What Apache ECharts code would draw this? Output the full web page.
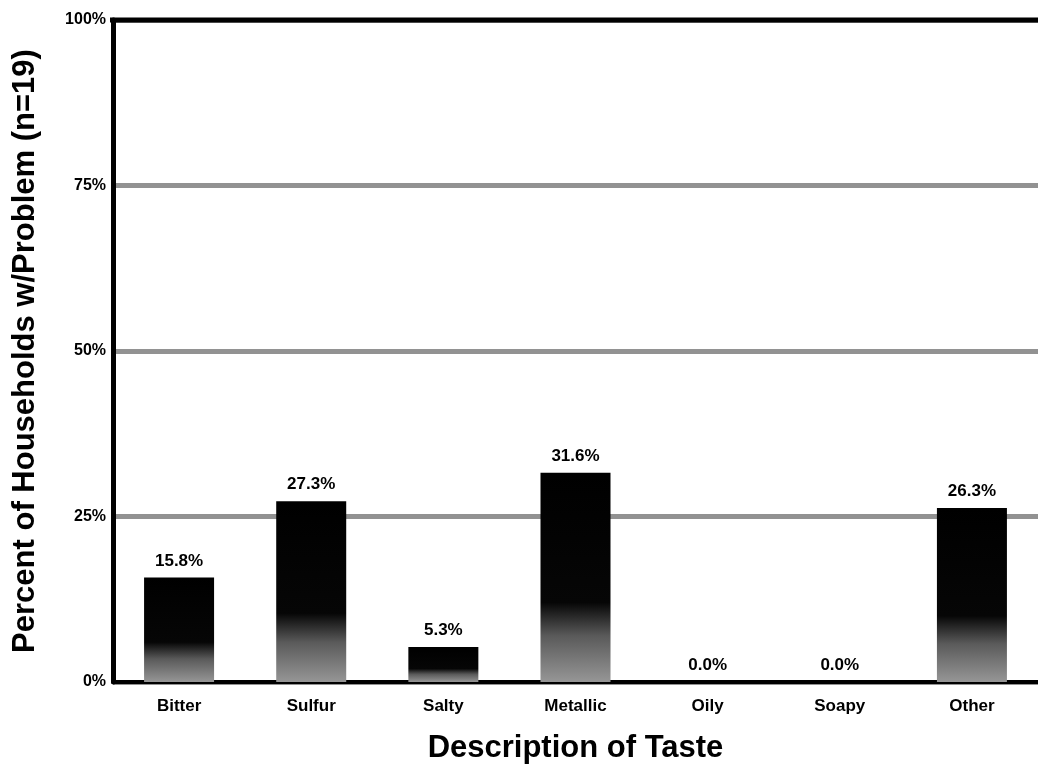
<!DOCTYPE html>
<html><head><meta charset="utf-8">
<script src="https://cdn.jsdelivr.net/npm/echarts@6/dist/echarts.min.js"></script>
<style>html,body{margin:0;padding:0;background:#fff}#c{width:1038px;height:769px}</style>
</head><body><div id="c"></div>
<script>
var categories = ['Bitter','Sulfur','Salty','Metallic','Oily','Soapy','Other'];
var percentValues = [15.8, 27.3, 5.3, 31.6, 0.0, 0.0, 26.3];
var yTicks = [0, 25, 50, 75, 100];

var chart = echarts.init(document.getElementById('c'), null, {renderer:'canvas'});
var font = 'Liberation Sans, Arial, Helvetica, sans-serif';
chart.setOption({
  animation:false,
  backgroundColor:'#fff',
  grid:{left:113, top:20, width:930, bottom:85, containLabel:false},
  xAxis:{
    type:'category', data:categories,
    name:'Description of Taste', nameLocation:'middle', nameGap:51,
    nameTextStyle:{fontFamily:font, fontWeight:'bold', fontSize:31, color:'#000'},
    axisLine:{lineStyle:{color:'#000', width:4}},
    axisTick:{show:false},
    axisLabel:{fontFamily:font, fontWeight:'bold', fontSize:17, color:'#000', margin:16}
  },
  yAxis:{
    type:'value', min:0, max:100, interval:25,
    name:'Percent of Households w/Problem (n=19)', nameLocation:'middle', nameGap:72, nameRotate:90,
    nameTextStyle:{fontFamily:font, fontWeight:'bold', fontSize:31, color:'#000'},
    axisLine:{show:true, lineStyle:{color:'#000', width:5}},
    axisTick:{show:false},
    axisLabel:{fontFamily:font, fontWeight:'bold', fontSize:16, color:'#000', margin:7,
      formatter:function(v){return yTicks.indexOf(v)>=0 ? v+'%' : '';}},
    splitLine:{show:true, lineStyle:{color:'#929292', width:5}}
  },
  series:[{
    type:'bar', data:percentValues, barWidth:70,
    itemStyle:{color:new echarts.graphic.LinearGradient(0,0,0,1,[
      {offset:0,color:'#000'},{offset:0.62,color:'#060606'},{offset:0.78,color:'#5a5a5a'},{offset:1,color:'#969696'}])},
    label:{show:true, position:'top', distance:8, fontFamily:font, fontWeight:'bold', fontSize:17, color:'#000',
      formatter:function(p){return p.value.toFixed(1)+'%';}}
  }]
});
var topY = chart.convertToPixel({yAxisIndex:0}, 100);
chart.setOption({graphic:[{type:'line', shape:{x1:110, y1:topY, x2:1038, y2:topY}, style:{stroke:'#000', lineWidth:5}, z:10}]});
</script></body></html>
